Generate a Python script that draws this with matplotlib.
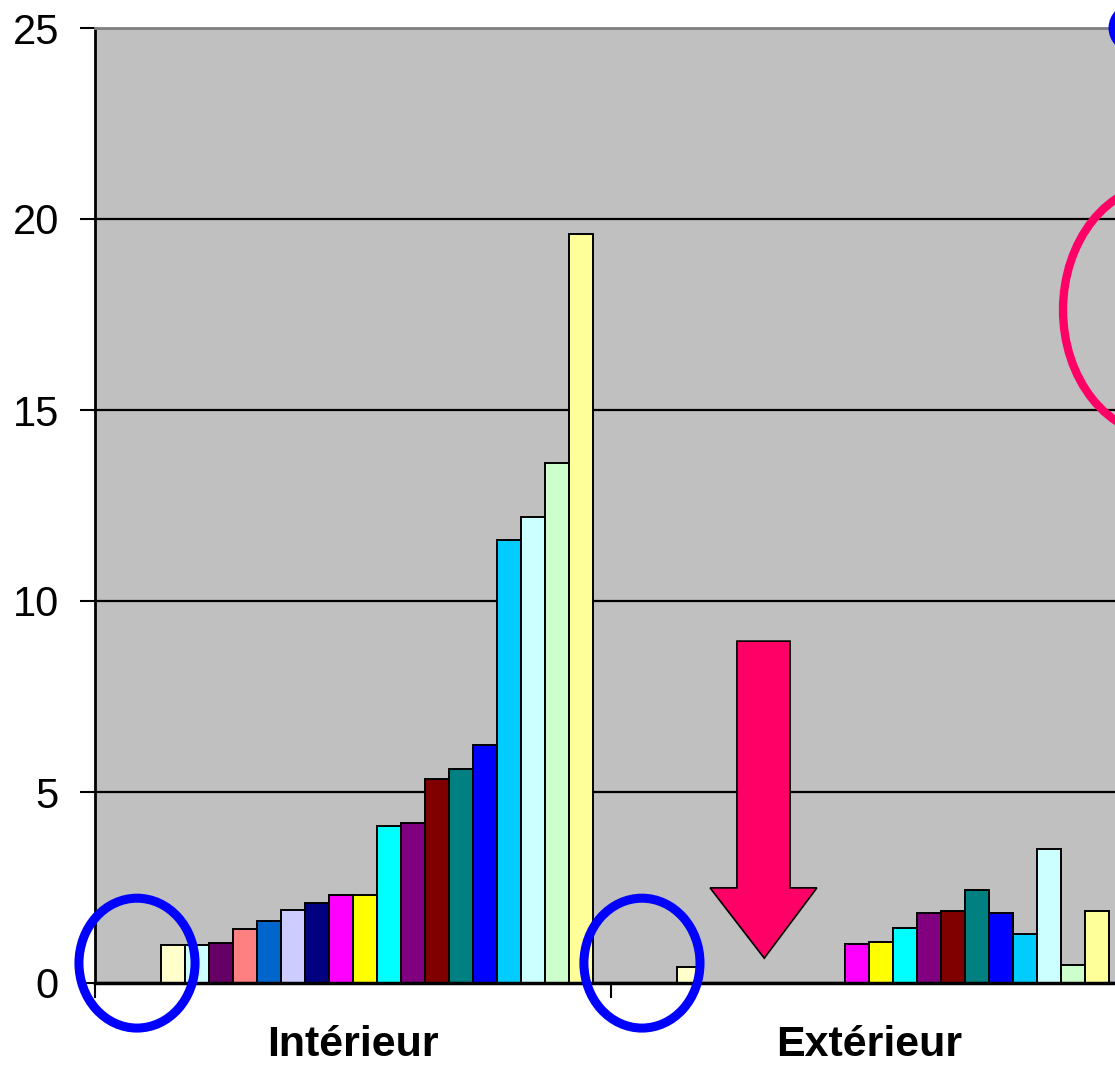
import matplotlib
matplotlib.use("Agg")
import matplotlib.pyplot as plt
import numpy as np
from matplotlib.patches import Ellipse, Polygon

plt.rcParams["font.family"] = ["Liberation Sans", "DejaVu Sans"]

# Data (20 series, Excel default palette order)
categories = ["Intérieur", "Extérieur"]
series_colors = [
    "#9999FF", "#993366", "#FFFFCC", "#CCFFFF", "#660066",
    "#FF8080", "#0066CC", "#CCCCFF", "#000080", "#FF00FF",
    "#FFFF00", "#00FFFF", "#800080", "#800000", "#008080",
    "#0000FF", "#00CCFF", "#CCFFFF", "#CCFFCC", "#FFFF99",
]
interieur = [0, 0, 1.0, 1.0, 1.05, 1.42, 1.62, 1.9, 2.1, 2.3,
             2.3, 4.12, 4.18, 5.33, 5.6, 6.22, 11.6, 12.2, 13.6, 19.6]
exterieur = [0, 0, 0.42, 0, 0, 0, 0, 0, 0, 1.02,
             1.07, 1.43, 1.83, 1.88, 2.43, 1.83, 1.28, 3.52, 0.46, 1.89]
y_ticks = [0, 5, 10, 15, 20, 25]

fig = plt.figure(figsize=(11.15, 10.65), dpi=100)
# plot area runs past the right edge of the picture (cropped chart)
ax = fig.add_axes([95 / 1115, 82 / 1065, 1032 / 1115, 955 / 1065])
ax.set_facecolor("#C0C0C0")

n_series = len(series_colors)
x = np.arange(len(categories))
w = 1 / (n_series + 1.5)  # gap width 150%
values = np.array([interieur, exterieur]).T  # series x category

for i in range(n_series):
    offs = -n_series / 2 * w + (i + 0.5) * w
    ax.bar(x + offs, values[i], width=w, color=series_colors[i],
           edgecolor="black", linewidth=1.4, zorder=3)

ax.set_xlim(-0.5, 1.5)
ax.set_ylim(0, 25)
ax.set_yticks(y_ticks)
ax.set_yticklabels([str(t) for t in y_ticks], fontsize=30)
ax.tick_params(axis="y", length=11, width=1.5, pad=15, direction="out")
ax.yaxis.grid(True, color="black", linewidth=1.6, zorder=1)
ax.set_axisbelow(True)

ax.set_xticks(x)
ax.set_xticklabels(categories, fontsize=31, fontweight="bold")
ax.tick_params(axis="x", which="major", length=0, pad=30)
ax.set_xticks([-0.5, 0.5], minor=True)
ax.tick_params(axis="x", which="minor", length=11, width=1.5, direction="out")

ax.spines["left"].set_linewidth(2)
ax.spines["bottom"].set_linewidth(2.5)
ax.spines["bottom"].set_zorder(4)
ax.spines["top"].set_color("#808080")
ax.spines["top"].set_linewidth(2)
ax.spines["right"].set_visible(False)

# Annotations (blue rings on the empty spots, pink arrow, pink ring)
blue = "#0000FF"
pink = "#FF0066"
for cx in (-0.4186, 0.560):
    ax.add_patch(Ellipse((cx, 0.52), 0.225, 3.4, fill=False, edgecolor=blue,
                         linewidth=6.5, clip_on=False, zorder=6))

arrow = [(0.744, 8.95), (0.847, 8.95), (0.847, 2.49), (0.899, 2.49),
         (0.797, 0.65), (0.692, 2.49), (0.744, 2.49)]
ax.add_patch(Polygon(arrow, closed=True, facecolor=pink, edgecolor="black",
                     linewidth=1.2, zorder=6))

ax.add_patch(Ellipse((1.571, 17.62), 0.39, 6.6, fill=False, edgecolor=pink,
                     linewidth=6, clip_on=False, zorder=6))
ax.add_patch(Ellipse((1.5155, 25.0), 0.085, 1.1, fill=False, edgecolor=blue,
                     linewidth=6.5, clip_on=False, zorder=6))

fig.savefig("out.png", dpi=100)
